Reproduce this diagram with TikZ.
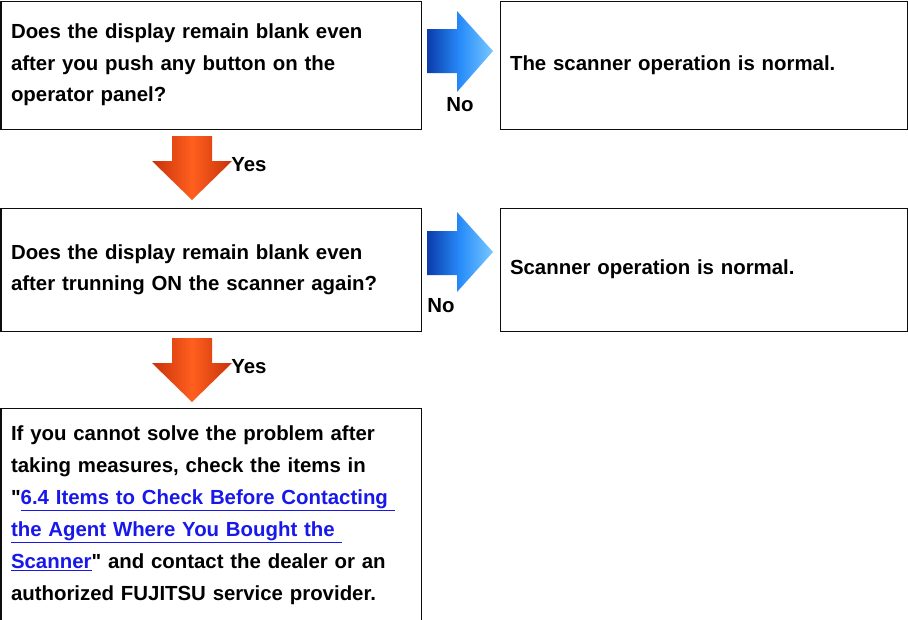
\documentclass[tikz,border=0pt]{standalone}
\usepackage{fontspec}
\setmainfont{Liberation Sans}
\usepackage{xcolor}
\usepackage{tikz}
\usetikzlibrary{positioning,calc}
\definecolor{askink}{gray}{0.05}
\definecolor{asklink}{RGB}{24,24,235}
\definecolor{noblue}{RGB}{40,140,250}
\definecolor{nobluedark}{RGB}{10,60,170}
\definecolor{noblueglow}{RGB}{120,200,255}
\definecolor{yesorange}{RGB}{255,95,30}
\definecolor{yesorangedark}{RGB}{200,50,10}

\begin{document}
\begin{tikzpicture}[
  x=0.75pt,y=-0.75pt,
  every node/.append style={font=\fontsize{15.3}{23.5}\selectfont\bfseries},
  stepbox/.style={draw=askink,line width=0.8pt,fill=white,align=left,
    anchor=north west,inner xsep=7.5pt,inner ysep=0pt,
    minimum width=315pt,text width=300pt},
  endbox/.style={stepbox,minimum width=305.25pt,text width=290.25pt},
  answer/.style={font=\fontsize{15.3}{16}\selectfont\bfseries,inner sep=0pt},
  noarrow/.style={left color=nobluedark,right color=noblueglow,middle color=noblue},
  yesarrow/.style={left color=yesorangedark,right color=yesorangedark,middle color=yesorange},
]
  \useasboundingbox (0,0) rectangle (908,619);

  % Questions on the left, normal outcomes on the right.
  \node[stepbox,minimum height=96pt] (askbtn) at (0.5,0.5)
    {Does the display remain blank even\\after you push any button on the\\operator panel?};
  \node[endbox,minimum height=96pt] (okbtn) at (499.5,0.5)
    {The scanner operation is normal.};
  \node[stepbox,minimum height=92.25pt] (askpwr) at (0.5,207.5)
    {Does the display remain blank even\\after trunning ON the scanner again?};
  \node[endbox,minimum height=92.25pt] (okpwr) at (499.5,207.5)
    {Scanner operation is normal.};
  \node[stepbox,minimum height=160pt,font=\fontsize{15.3}{24}\selectfont\bfseries] (contact) at (0.5,408)
    {If you cannot solve the problem after\\
     taking measures, check the items in\\
     \textquotedbl\textcolor{asklink}{\underline{6.4 Items to Check Before Contacting\ }}\\
     \textcolor{asklink}{\underline{the Agent Where You Bought the\ }}\\
     \textcolor{asklink}{\underline{Scanner}}\textquotedbl\ and contact the dealer or an\\
     authorized FUJITSU service provider.};

  % Block arrows: blue for No, orange for Yes.
  \shade[noarrow] (427,29) -- (457,29) -- (457,11) -- (493,51)
    -- (457,92) -- (457,73) -- (427,73) -- cycle;
  \node[answer] (no1) at (460,105) {No};
  \shade[noarrow] (427,231) -- (457,231) -- (457,212) -- (493,252)
    -- (457,292) -- (457,275) -- (427,275) -- cycle;
  \node[answer] (no2) at (441,306) {No};

  \shade[yesarrow] (172,136) -- (212,136) -- (212,161) -- (232,161)
    -- (192,200) -- (152,161) -- (172,161) -- cycle;
  \node[answer,anchor=west] (yes1) at (231,165) {Yes};
  \shade[yesarrow] (172,338) -- (212,338) -- (212,363) -- (232,363)
    -- (192,402) -- (152,363) -- (172,363) -- cycle;
  \node[answer,anchor=west] (yes2) at (231,367) {Yes};
\end{tikzpicture}
\end{document}
